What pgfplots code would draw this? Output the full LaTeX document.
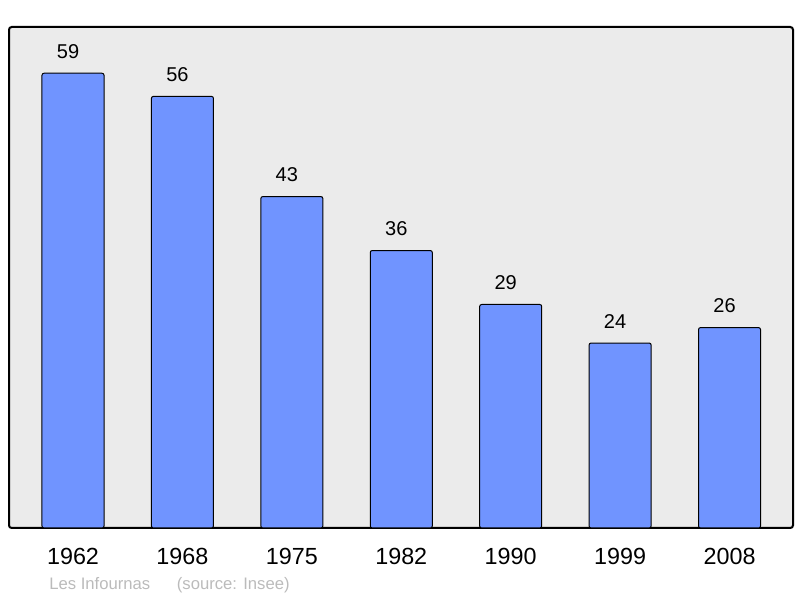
\documentclass[border=0pt]{standalone}
\usepackage{pgfplots}
\pgfplotsset{compat=1.18}
\usepackage{fontspec}
\setmainfont{Liberation Sans}
\definecolor{barblue}{HTML}{7094FF}
\definecolor{panel}{HTML}{EBEBEB}
\definecolor{srcgray}{HTML}{BBBBBB}
\begin{document}
\begin{tikzpicture}
\begin{axis}[
  scale only axis,
  width=588pt, height=375.75pt,
  at={(0,0)}, anchor=south west,
  xmin=-0.585, xmax=6.58,
  ymin=0, ymax=65,
  axis background/.style={fill=panel},
  axis line style={line width=1.5pt, rounded corners=2pt},
  ybar, bar width=0.567,
  xtick=data,
  xticklabels={1962,1968,1975,1982,1990,1999,2008},
  xticklabel style={anchor=base, yshift=-27.75pt, inner sep=0pt, font=\fontsize{17.5}{20}\selectfont},
  major tick length=0pt,
  ytick=\empty,
  /pgf/number format/assume math mode=true,
  nodes near coords,
  every node near coord/.append style={anchor=base, yshift=11.25pt, xshift=-3.75pt, inner sep=0pt, font=\fontsize{15}{18}\selectfont, text=black},
]
\addplot[fill=barblue, draw=black, line width=0.75pt, rounded corners=1.5pt] coordinates {
  (0,59) (1,56) (2,43) (3,36) (4,29) (5,24) (6,26)
};
\end{axis}
\node[anchor=base west, inner sep=0pt, text=srcgray, font=\fontsize{12.5}{15}\selectfont] at (30pt,-46.5pt) {Les Infournas\hspace{1.6em}(source: Insee)};
\useasboundingbox (-6.75pt,-52.5pt) rectangle (593.25pt,396pt);
\end{tikzpicture}
\end{document}
